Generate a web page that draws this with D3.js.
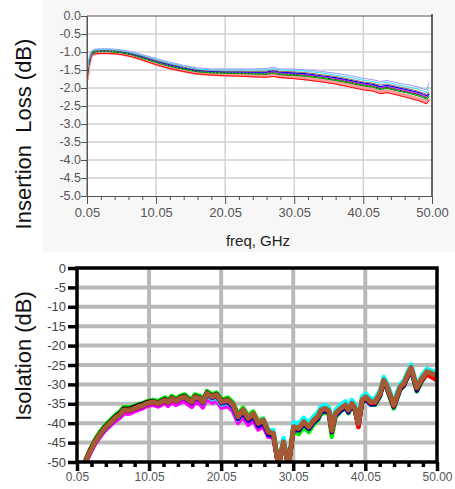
<!DOCTYPE html>
<html>
<head>
<meta charset="utf-8">
<script src="https://cdn.jsdelivr.net/npm/d3@7"></script>
<style>
  body { margin: 0; background: #fff; }
  svg { display: block; font-family: "Liberation Sans", Arial, sans-serif; }
</style>
</head>
<body>
<svg id="chart" width="455" height="489"></svg>
<script>
// ---- insertion loss (top) ----
const ilFreq = [0.05, 0.3, 0.7, 1.2, 2, 3, 4, 5, 6.5, 8, 10, 12, 14, 16, 18, 20, 22, 24, 26, 27, 28, 30, 32, 34, 36, 38, 40, 41.5, 42.5, 43.5, 45, 46.5, 48, 48.8, 49.2, 49.6];
const ilLavender = [-1.55,-1.20,-0.97,-0.92,-0.91,-0.91,-0.92,-0.94,-0.99,-1.07,-1.18,-1.28,-1.37,-1.44,-1.47,-1.47,-1.47,-1.47,-1.46,-1.42,-1.47,-1.47,-1.50,-1.54,-1.59,-1.65,-1.73,-1.77,-1.82,-1.79,-1.86,-1.91,-1.97,-2.03,-2.05,-1.84];
const ilCyan     = [-1.59,-1.23,-0.98,-0.94,-0.93,-0.93,-0.94,-0.96,-1.01,-1.09,-1.20,-1.31,-1.39,-1.47,-1.50,-1.50,-1.50,-1.50,-1.50,-1.46,-1.50,-1.51,-1.54,-1.58,-1.64,-1.70,-1.78,-1.82,-1.87,-1.84,-1.91,-1.97,-2.03,-2.09,-2.12,-1.97];
const ilBrown    = [-1.63,-1.26,-1.00,-0.96,-0.95,-0.95,-0.96,-0.98,-1.03,-1.11,-1.23,-1.33,-1.42,-1.49,-1.52,-1.53,-1.53,-1.54,-1.53,-1.50,-1.54,-1.55,-1.58,-1.63,-1.68,-1.75,-1.83,-1.87,-1.92,-1.89,-1.96,-2.02,-2.09,-2.14,-2.17,-2.10];
const ilBlue     = [-1.66,-1.28,-1.02,-0.97,-0.96,-0.96,-0.97,-0.99,-1.05,-1.13,-1.25,-1.35,-1.44,-1.51,-1.54,-1.55,-1.55,-1.56,-1.56,-1.52,-1.56,-1.58,-1.61,-1.66,-1.71,-1.78,-1.86,-1.90,-1.96,-1.93,-1.99,-2.05,-2.12,-2.18,-2.21,-2.16];
const ilMagenta  = [-1.69,-1.30,-1.03,-0.98,-0.97,-0.97,-0.98,-1.00,-1.06,-1.14,-1.26,-1.37,-1.45,-1.52,-1.55,-1.56,-1.57,-1.58,-1.58,-1.55,-1.59,-1.60,-1.64,-1.68,-1.74,-1.81,-1.89,-1.93,-1.99,-1.96,-2.03,-2.09,-2.16,-2.22,-2.25,-2.16];
const ilBlack    = [-1.70,-1.31,-1.04,-0.99,-0.98,-0.98,-0.99,-1.01,-1.07,-1.15,-1.27,-1.38,-1.46,-1.53,-1.56,-1.57,-1.58,-1.59,-1.59,-1.56,-1.60,-1.62,-1.65,-1.70,-1.76,-1.83,-1.91,-1.95,-2.01,-1.98,-2.05,-2.11,-2.18,-2.24,-2.27,-2.20];
const ilGreen    = [-1.71,-1.32,-1.04,-0.99,-0.98,-0.98,-0.99,-1.01,-1.07,-1.16,-1.28,-1.39,-1.47,-1.54,-1.57,-1.58,-1.59,-1.60,-1.60,-1.58,-1.61,-1.63,-1.67,-1.71,-1.77,-1.84,-1.92,-1.96,-2.02,-1.99,-2.06,-2.13,-2.20,-2.26,-2.29,-2.22];
const ilDkGreen  = [-1.73,-1.33,-1.05,-1.00,-0.99,-0.99,-1.00,-1.02,-1.08,-1.17,-1.29,-1.40,-1.48,-1.55,-1.58,-1.59,-1.60,-1.61,-1.62,-1.59,-1.63,-1.65,-1.68,-1.73,-1.79,-1.86,-1.94,-1.98,-2.04,-2.01,-2.08,-2.14,-2.22,-2.28,-2.31,-2.24];
const ilPink     = [-1.78,-1.37,-1.07,-1.03,-1.02,-1.02,-1.03,-1.05,-1.11,-1.20,-1.33,-1.44,-1.52,-1.59,-1.62,-1.63,-1.64,-1.66,-1.67,-1.64,-1.68,-1.70,-1.74,-1.79,-1.85,-1.92,-2.00,-2.04,-2.11,-2.08,-2.15,-2.22,-2.30,-2.36,-2.39,-2.30];
const ilRed      = [-1.82,-1.40,-1.09,-1.05,-1.04,-1.04,-1.05,-1.07,-1.13,-1.22,-1.35,-1.46,-1.54,-1.61,-1.64,-1.66,-1.67,-1.69,-1.70,-1.68,-1.71,-1.74,-1.78,-1.83,-1.89,-1.97,-2.05,-2.09,-2.16,-2.13,-2.20,-2.27,-2.35,-2.41,-2.44,-2.34];
const ilYTicks = [0, -0.5, -1, -1.5, -2, -2.5, -3, -3.5, -4, -4.5, -5];
const freqTicks = [0.05, 10.05, 20.05, 30.05, 40.05, 50];
const freqLabels = ["0.05", "10.05", "20.05", "30.05", "40.05", "50.00"];

// ---- isolation (bottom) ----
const isoFreq = [1.2,1.8,2.55,3.2,3.9,4.6,5.3,6.0,6.5,7.4,8.0,8.6,9.1,9.7,10.6,11.3,12.3,12.7,13.2,13.8,14.4,15.0,15.5,16.0,16.4,17.1,17.5,18.1,18.8,19.4,20.1,21.0,21.7,22.4,23.1,23.8,24.5,25.2,25.9,26.6,27.3,28.0,28.7,29.4,30.1,30.8,31.5,32.2,32.9,33.5,33.9,34.5,35.0,35.4,35.9,36.6,37.3,37.7,38.2,38.6,39.1,39.6,40.1,40.8,41.4,42.1,42.6,43.0,44.0,44.9,45.4,45.8,46.4,47.2,47.9,48.6,49.3,49.95];
const isoGreen   = [-49.6,-47.0,-44.2,-42.3,-40.6,-39.3,-38.0,-37.0,-35.9,-35.9,-35.6,-35.1,-34.9,-34.4,-34.0,-34.3,-33.4,-34.0,-33.0,-33.7,-32.9,-32.6,-33.4,-33.9,-32.6,-33.0,-33.9,-31.7,-32.6,-32.1,-33.9,-33.4,-34.7,-37.7,-36.0,-38.1,-37.0,-39.5,-38.8,-42.0,-42.6,-51.0,-45.2,-51.0,-42.0,-42.8,-41.0,-42.3,-40.3,-39.2,-37.6,-37.2,-37.8,-43.5,-38.5,-37.0,-36.0,-37.4,-35.6,-36.8,-40.6,-34.8,-33.8,-35.2,-35.3,-33.0,-29.5,-30.9,-36.2,-31.4,-30.4,-28.6,-26.3,-31.8,-29.2,-27.3,-27.8,-28.0];
const isoMagenta = [-50.4,-48.0,-45.3,-43.6,-41.9,-40.7,-39.5,-38.6,-37.5,-37.5,-37.0,-36.5,-36.2,-35.6,-35.2,-35.7,-34.8,-35.5,-34.5,-35.3,-34.6,-34.3,-35.2,-35.8,-34.5,-35.0,-35.9,-33.7,-34.7,-34.2,-36.0,-35.6,-36.9,-39.9,-38.3,-40.4,-39.2,-41.6,-40.8,-43.5,-43.6,-51.0,-45.0,-51.0,-41.0,-41.5,-39.9,-41.1,-39.5,-38.4,-36.9,-36.5,-37.1,-42.0,-37.7,-36.5,-35.6,-36.9,-35.2,-36.3,-40.2,-34.3,-33.5,-34.8,-34.8,-32.6,-29.2,-30.5,-35.6,-30.9,-30.0,-28.3,-25.9,-31.1,-28.7,-27.0,-27.5,-27.9];
const isoCyan    = [-50.0,-47.4,-44.7,-42.9,-41.2,-39.9,-38.6,-37.7,-36.5,-36.5,-36.1,-35.6,-35.4,-34.8,-34.4,-34.8,-33.9,-34.5,-33.5,-34.2,-33.4,-33.1,-33.9,-34.6,-33.4,-33.9,-34.9,-32.8,-33.8,-33.4,-35.2,-34.7,-36.0,-39.0,-37.2,-39.3,-37.8,-40.2,-39.0,-41.8,-41.8,-50.5,-43.8,-50.5,-39.8,-40.2,-38.6,-39.9,-38.2,-37.2,-35.7,-35.3,-35.9,-40.8,-36.6,-35.3,-34.4,-35.7,-34.0,-35.1,-39.2,-33.2,-32.4,-33.7,-33.7,-31.5,-28.1,-29.4,-34.5,-29.9,-29.0,-27.3,-24.9,-30.1,-27.7,-26.0,-26.5,-26.9];
const isoBlue    = [-50.2,-47.7,-45.0,-43.2,-41.5,-40.2,-38.9,-38.0,-36.8,-36.8,-36.4,-35.9,-35.7,-35.1,-34.7,-35.1,-34.2,-34.8,-33.8,-34.5,-33.7,-33.4,-34.3,-34.8,-33.5,-33.9,-34.8,-32.6,-33.5,-33.0,-34.9,-34.5,-35.9,-38.9,-37.3,-39.4,-38.2,-40.8,-40.0,-43.0,-43.4,-51.0,-45.5,-51.0,-41.5,-41.9,-40.2,-41.5,-39.8,-38.8,-37.2,-36.8,-37.4,-42.3,-38.1,-36.8,-35.9,-37.2,-35.5,-36.6,-40.8,-34.7,-33.8,-35.2,-35.1,-32.9,-29.5,-30.8,-35.8,-31.2,-30.3,-28.6,-26.2,-31.6,-29.0,-27.3,-27.9,-28.3];
const isoBlack   = [-49.8,-47.2,-44.5,-42.7,-41.0,-39.7,-38.4,-37.4,-36.3,-36.2,-35.8,-35.3,-35.1,-34.6,-34.3,-34.7,-33.8,-34.4,-33.4,-34.1,-33.3,-33.0,-33.8,-34.3,-33.0,-33.4,-34.3,-32.1,-33.0,-32.5,-34.3,-33.9,-35.2,-38.2,-36.6,-38.7,-37.6,-40.1,-39.3,-42.3,-42.8,-51.0,-45.0,-51.0,-41.1,-41.5,-39.8,-41.1,-39.4,-38.4,-36.8,-36.4,-37.0,-42.0,-37.7,-36.4,-35.5,-36.8,-35.1,-36.2,-40.4,-34.3,-33.5,-34.8,-34.8,-32.6,-29.2,-30.5,-35.6,-30.9,-30.0,-28.3,-25.9,-31.2,-28.7,-27.0,-27.6,-28.0];
const isoRed     = [-50.0,-47.5,-44.8,-43.0,-41.3,-40.0,-38.7,-37.8,-36.7,-36.7,-36.3,-35.8,-35.6,-35.0,-34.6,-35.0,-34.1,-34.7,-33.7,-34.4,-33.6,-33.3,-34.1,-34.6,-33.3,-33.7,-34.6,-32.4,-33.3,-32.8,-34.6,-34.1,-35.4,-38.4,-36.7,-38.8,-37.6,-40.1,-39.3,-42.3,-42.7,-51.0,-44.9,-51.0,-41.0,-41.4,-39.7,-41.0,-39.3,-38.3,-36.7,-36.3,-36.9,-42.0,-37.6,-36.3,-35.4,-36.7,-35.0,-36.2,-41.0,-34.2,-33.4,-34.8,-34.7,-32.5,-29.1,-30.4,-35.5,-30.8,-29.9,-28.2,-25.8,-31.0,-28.8,-27.4,-28.2,-28.9];
const isoBrown   = [-50.0,-47.5,-44.8,-43.0,-41.3,-40.0,-38.7,-37.8,-36.6,-36.6,-36.2,-35.7,-35.5,-34.9,-34.5,-34.9,-34.0,-34.6,-33.6,-34.3,-33.5,-33.2,-34.0,-34.5,-33.2,-33.6,-34.5,-32.3,-33.2,-32.7,-34.5,-34.0,-35.3,-38.3,-36.6,-38.7,-37.5,-40.0,-39.2,-42.2,-42.6,-51.0,-44.8,-51.0,-40.9,-41.3,-39.6,-40.9,-39.2,-38.2,-36.6,-36.2,-36.8,-41.8,-37.5,-36.2,-35.3,-36.6,-34.9,-36.0,-40.0,-34.0,-33.2,-34.5,-34.5,-32.3,-28.9,-30.2,-35.3,-30.6,-29.7,-28.0,-25.6,-30.8,-28.4,-26.7,-27.2,-27.6];
const isoYTicks = [0, -5, -10, -15, -20, -25, -30, -35, -40, -45, -50];

const FONT = "'Liberation Sans', Arial, sans-serif";
const svg = d3.select("#chart");

// ================= top chart =================
const xTop = d3.scaleLinear().domain([0.05, 50]).range([87, 432]);
const yTop = d3.scaleLinear().domain([-5, 0]).range([196, 16]);

svg.append("rect").attr("x", 43).attr("y", 0).attr("width", 412).attr("height", 252).attr("fill", "#f7f7f7");
svg.append("rect").attr("x", xTop(0.05)).attr("y", yTop(0))
    .attr("width", xTop(50) - xTop(0.05)).attr("height", yTop(-5) - yTop(0)).attr("fill", "#fff");

// grid
const gTopGrid = svg.append("g").attr("stroke", "#d2d2d2").attr("stroke-width", 1.5);
gTopGrid.selectAll("line.h").data(ilYTicks.filter(d => d < 0 && d > -5)).enter().append("line")
    .attr("x1", xTop(0.05)).attr("x2", xTop(50)).attr("y1", d => yTop(d)).attr("y2", d => yTop(d));
gTopGrid.selectAll("line.v").data(freqTicks.slice(1, 5)).enter().append("line")
    .attr("y1", yTop(0)).attr("y2", yTop(-5)).attr("x1", d => xTop(d)).attr("x2", d => xTop(d));

svg.append("defs").append("clipPath").attr("id", "clipTop").append("rect")
    .attr("x", xTop(0.05)).attr("y", yTop(0)).attr("width", xTop(50) - xTop(0.05)).attr("height", yTop(-5) - yTop(0));

const ilSeries = [
    {v: ilPink, c: "#ff9a9a", w: 3.5},
    {v: ilRed, c: "#ff0000", w: 1},
    {v: ilDkGreen, c: "#007a00", w: 1},
    {v: ilBlack, c: "#000000", w: 1},
    {v: ilMagenta, c: "#ff00ff", w: 1},
    {v: ilBlue, c: "#0000ff", w: 1.2},
    {v: ilBrown, c: "#a07050", w: 1},
    {v: ilGreen, c: "#00dd00", w: 1.3, dash: "2,1.5"},
    {v: ilCyan, c: "#33ddff", w: 1},
    {v: ilLavender, c: "#9a9aff", w: 1}
];
const lineTop = d3.line().x((d, i) => xTop(ilFreq[i])).y(d => yTop(d));
svg.append("g").attr("clip-path", "url(#clipTop)")
    .selectAll("path").data(ilSeries).enter().append("path")
    .attr("fill", "none")
    .attr("stroke", d => d.c)
    .attr("stroke-width", d => d.w)
    .attr("stroke-dasharray", d => d.dash || null)
    .attr("d", d => lineTop(d.v));

// frame
svg.append("path").attr("fill", "none").attr("stroke", "#555").attr("stroke-width", 1)
    .attr("d", `M${xTop(0.05)},${yTop(-5)}V${yTop(0)}H${xTop(50)}`);
svg.append("line").attr("stroke", "#333").attr("stroke-width", 1.5)
    .attr("x1", xTop(50)).attr("x2", xTop(50)).attr("y1", yTop(0) - 2).attr("y2", yTop(-5));

// axes
const hyphen = s => s.replace("\u2212", "-");
const yAxisTop = svg.append("g").attr("transform", `translate(${xTop(0.05)},0)`)
    .call(d3.axisLeft(yTop).tickValues(ilYTicks).tickFormat(d => hyphen(d3.format(".1f")(d))).tickSize(6).tickPadding(0));
yAxisTop.select(".domain").attr("stroke", "#555");
yAxisTop.selectAll(".tick line").attr("stroke", "#555");
yAxisTop.selectAll(".tick text").attr("fill", "#555").attr("font-size", 12.5).attr("dy", "0.25em")
    .attr("font-family", FONT);

const xAxisTop = svg.append("g").attr("transform", `translate(0,${yTop(-5)})`)
    .call(d3.axisBottom(xTop).tickValues(freqTicks).tickFormat((d, i) => freqLabels[i]).tickSize(8).tickPadding(4));
xAxisTop.select(".domain").attr("stroke", "#555");
xAxisTop.selectAll(".tick line").attr("stroke", "#555");
xAxisTop.selectAll(".tick text").attr("fill", "#555").attr("font-size", 13)
    .attr("font-family", FONT);
const minorTicks = d3.range(2.05, 50, 2).filter(d => Math.abs((d - 0.05) % 10) > 0.01);
const xMinorTop = svg.append("g").attr("transform", `translate(0,${yTop(-5)})`)
    .call(d3.axisBottom(xTop).tickValues(minorTicks).tickFormat("").tickSize(4));
xMinorTop.select(".domain").remove();
xMinorTop.selectAll(".tick line").attr("stroke", "#555");

svg.append("text").attr("x", 258).attr("y", 246).attr("text-anchor", "middle")
    .attr("font-size", 15).attr("fill", "#222").text("freq, GHz");
svg.append("text").attr("transform", "translate(31,134) rotate(-90)").attr("text-anchor", "middle")
    .style("white-space", "pre").attr("font-size", 22).attr("fill", "#111").text("Insertion  Loss (dB)");

// ================= bottom chart =================
const xBot = d3.scaleLinear().domain([0.05, 50]).range([77, 437]);
const yBot = d3.scaleLinear().domain([-50, 0]).range([462, 268]);

const gBotGrid = svg.append("g").attr("stroke", "#b9b9b9").attr("stroke-width", 4);
gBotGrid.selectAll("line.h").data(isoYTicks.filter(d => d < 0 && d > -50)).enter().append("line")
    .attr("x1", xBot(0.05)).attr("x2", xBot(50)).attr("y1", d => yBot(d)).attr("y2", d => yBot(d));
gBotGrid.selectAll("line.v").data(freqTicks.slice(1, 5)).enter().append("line")
    .attr("y1", yBot(0)).attr("y2", yBot(-50)).attr("x1", d => xBot(d)).attr("x2", d => xBot(d));

svg.select("defs").append("clipPath").attr("id", "clipBot").append("rect")
    .attr("x", xBot(0.05)).attr("y", yBot(0)).attr("width", xBot(50) - xBot(0.05)).attr("height", yBot(-50) - yBot(0));

const isoSeries = [
    {v: isoGreen, c: "#00ee00"},
    {v: isoMagenta, c: "#ff00ff"},
    {v: isoCyan, c: "#00ffff"},
    {v: isoBlue, c: "#0000cc"},
    {v: isoBlack, c: "#000000"},
    {v: isoRed, c: "#ff0000"},
    {v: isoBrown, c: "#a65a33"}
];
const lineBot = d3.line().x((d, i) => xBot(isoFreq[i])).y(d => yBot(d));
svg.append("g").attr("clip-path", "url(#clipBot)")
    .selectAll("path").data(isoSeries).enter().append("path")
    .attr("fill", "none")
    .attr("stroke", d => d.c)
    .attr("stroke-width", (d, i) => i === isoSeries.length - 1 ? 5 : 4.5)
    .attr("stroke-linejoin", "round")
    .attr("d", d => lineBot(d.v));

svg.append("rect").attr("x", xBot(0.05)).attr("y", yBot(0))
    .attr("width", xBot(50) - xBot(0.05)).attr("height", yBot(-50) - yBot(0))
    .attr("fill", "none").attr("stroke", "#000").attr("stroke-width", 3.5);

const yAxisBot = svg.append("g").attr("transform", `translate(${xBot(0.05)},0)`)
    .call(d3.axisLeft(yBot).tickValues(isoYTicks).tickFormat(d => String(d)).tickSize(9).tickPadding(2));
yAxisBot.select(".domain").remove();
yAxisBot.selectAll(".tick line").attr("stroke", "#000").attr("stroke-width", 3.5);
yAxisBot.selectAll(".tick text").attr("fill", "#444").attr("font-size", 13)
    .attr("font-family", FONT);

const xAxisBot = svg.append("g").attr("transform", `translate(0,${yBot(-50)})`)
    .call(d3.axisBottom(xBot).tickValues(freqTicks).tickFormat((d, i) => freqLabels[i]).tickSize(9).tickPadding(1));
xAxisBot.select(".domain").remove();
xAxisBot.selectAll(".tick line").attr("stroke", "#000").attr("stroke-width", 3.5);
xAxisBot.selectAll(".tick text").attr("fill", "#555").attr("font-size", 12)
    .attr("font-family", FONT);
const xMinorBot = svg.append("g").attr("transform", `translate(0,${yBot(-50)})`)
    .call(d3.axisBottom(xBot).tickValues(minorTicks).tickFormat("").tickSize(5));
xMinorBot.select(".domain").remove();
xMinorBot.selectAll(".tick line").attr("stroke", "#000").attr("stroke-width", 3.5);

svg.append("text").attr("transform", "translate(31,356) rotate(-90)").attr("text-anchor", "middle")
    .attr("font-size", 22).attr("fill", "#111").text("Isolation (dB)");
</script>
</body>
</html>
